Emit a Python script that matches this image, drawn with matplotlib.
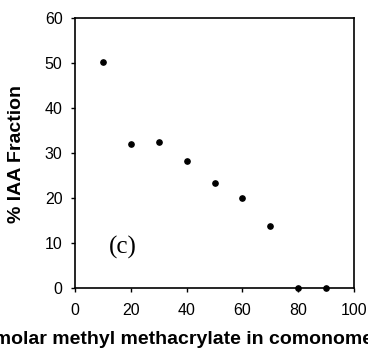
import matplotlib
matplotlib.use('Agg')
import matplotlib.pyplot as plt

comonomer = [10, 20, 30, 40, 50, 60, 70, 80, 90]
iaa_fraction = [50.2, 31.9, 32.5, 28.1, 23.3, 19.9, 13.8, 0.0, 0.0]
x_ticks = [0, 20, 40, 60, 80, 100]
y_ticks = [0, 10, 20, 30, 40, 50, 60]

plt.rcParams['font.family'] = ['Liberation Sans', 'DejaVu Sans']

fig = plt.figure(figsize=(3.68, 3.49), dpi=100)
ax = fig.add_axes([0.204, 0.175, 0.758, 0.774])

ax.plot(comonomer, iaa_fraction, 'o', color='black', markersize=3.8, clip_on=False, zorder=3)

ax.set_xlim(0, 100)
ax.set_ylim(0, 60)
ax.set_xticks(x_ticks)
ax.set_yticks(y_ticks)
ax.tick_params(direction='out', length=3, width=1, labelsize=11.5)
ax.tick_params(axis='x', pad=8)
ax.tick_params(axis='y', pad=6)
for s in ax.spines.values():
    s.set_linewidth(1.2)

ax.text(17.1, 9.1, '(c)', family='Liberation Serif', fontsize=18, ha='center', va='center')

# labels placed as in the scanned figure (x label runs past both edges there too)
fig.text(0.045, 0.559, '% IAA Fraction', fontsize=14, fontweight='bold',
         rotation=90, ha='center', va='center')
fig.text(0.478, 0.0143, '% molar methyl methacrylate in comonomer',
         fontsize=14, fontweight='bold', ha='center', va='baseline')

fig.savefig('out.png', dpi=100)
